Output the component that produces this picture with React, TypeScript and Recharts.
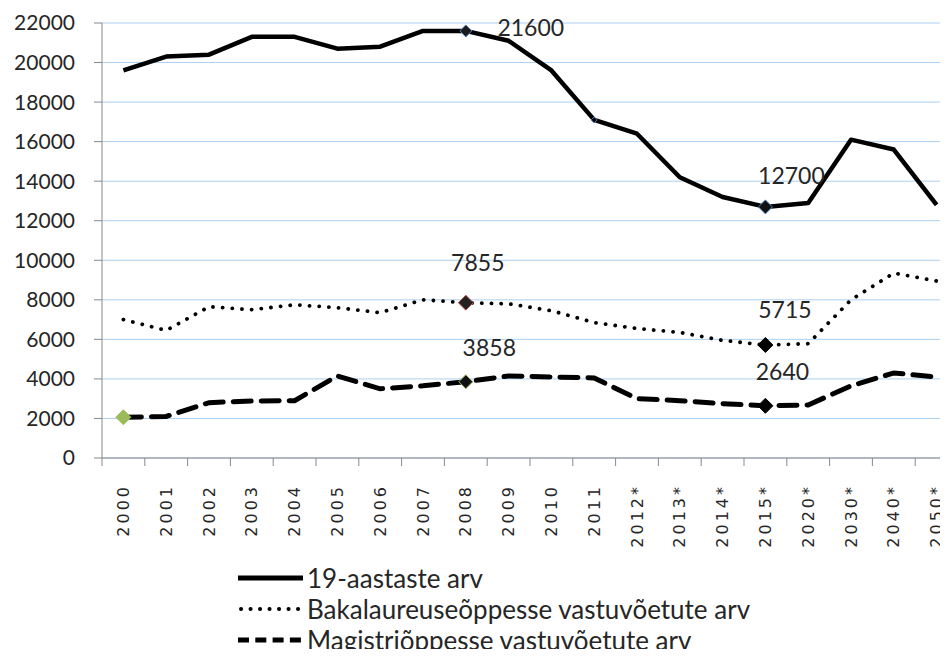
import React from 'react';
import { LineChart, Line, XAxis, YAxis, CartesianGrid, Legend } from 'recharts';

const categories = ['2000', '2001', '2002', '2003', '2004', '2005', '2006', '2007', '2008', '2009', '2010', '2011', '2012*', '2013*', '2014*', '2015*', '2020*', '2030*', '2040*', '2050*'];
const aastased19 = [19600, 20300, 20400, 21300, 21300, 20700, 20800, 21600, 21600, 21100, 19600, 17100, 16400, 14200, 13200, 12700, 12900, 16100, 15600, 12800];
const bakalaureus = [7000, 6450, 7650, 7500, 7750, 7600, 7350, 8000, 7855, 7800, 7450, 6850, 6550, 6350, 5950, 5715, 5780, 8000, 9350, 8950];
const magistri = [2060, 2100, 2800, 2880, 2900, 4150, 3500, 3650, 3858, 4150, 4100, 4050, 3000, 2900, 2750, 2640, 2680, 3650, 4300, 4100];
const yTicks = [0, 2000, 4000, 6000, 8000, 10000, 12000, 14000, 16000, 18000, 20000, 22000];
const seriesNames = ['19-aastaste arv', 'Bakalaureuseõppesse vastuvõetute arv', 'Magistriõppesse vastuvõetute arv'];

const data = categories.map((c, i) => ({ cat: c, s1: aastased19[i], s2: bakalaureus[i], s3: magistri[i] }));

const CHART_W = 952;
const CHART_H = 649;
const MARGIN = { top: 15, right: 2, left: 0, bottom: 0 };
const Y_W = 94;
const X_H = 199;
const STEP = (CHART_W - MARGIN.left - MARGIN.right - Y_W) / categories.length;
const X_TICK_SIZE = 8;
const X_TICK_MARGIN = 18;
const AXIS_COLOR = '#898989';
const GRID_COLOR = '#abd0f1';
const TEXT_COLOR = '#262626';

type Marker = { fill: string; stroke: string; r: number; label?: { dx: number; dy: number } };

const markers: Record<string, Record<number, Marker>> = {
  s1: {
    8: { fill: '#1a1a1a', stroke: '#4f81bd', r: 6, label: { dx: 65, dy: -4 } },
    11: { fill: '#000', stroke: '#4f81bd', r: 3 },
    15: { fill: '#111', stroke: '#4f81bd', r: 7, label: { dx: 26, dy: -32 } },
  },
  s2: {
    8: { fill: '#222', stroke: '#c0504d', r: 7.5, label: { dx: 12, dy: -41 } },
    15: { fill: '#000', stroke: '#000', r: 7.5, label: { dx: 19.5, dy: -36 } },
  },
  s3: {
    0: { fill: '#9bbb59', stroke: '#9bbb59', r: 7.5 },
    8: { fill: '#111', stroke: '#9bbb59', r: 7, label: { dx: 23.5, dy: -35 } },
    15: { fill: '#000', stroke: '#000', r: 7.5, label: { dx: 17, dy: -35 } },
  },
};

const makeDot = (key: string) => (props: any) => {
  const { cx, cy, index, value } = props;
  const m = markers[key][index];
  if (!m || cx == null || cy == null) return <g key={`${key}-d-${index}`} />;
  const r = m.r;
  const v = Array.isArray(value) ? value[1] : value;
  return (
    <g key={`${key}-d-${index}`}>
      <polygon
        points={`${cx},${cy - r} ${cx + r},${cy} ${cx},${cy + r} ${cx - r},${cy}`}
        fill={m.fill}
        stroke={m.stroke}
        strokeWidth={1}
      />
      {m.label && (
        <text
          x={cx + m.label.dx}
          y={cy + m.label.dy}
          textAnchor="middle"
          dominantBaseline="central"
          fontFamily="Lato"
          fontSize={23}
          fill={TEXT_COLOR}
        >
          {v}
        </text>
      )}
    </g>
  );
};

const XTick = (props: any) => {
  const { x, y, payload, index } = props;
  const axisY = y - X_TICK_SIZE - X_TICK_MARGIN;
  return (
    <g>
      <line x1={x - STEP / 2} x2={x - STEP / 2} y1={axisY} y2={axisY + X_TICK_SIZE} stroke={AXIS_COLOR} />
      {index === categories.length - 1 && (
        <line x1={x + STEP / 2} x2={x + STEP / 2} y1={axisY} y2={axisY + X_TICK_SIZE} stroke={AXIS_COLOR} />
      )}
      <text
        x={x}
        y={y}
        transform={`rotate(-90 ${x} ${y})`}
        textAnchor="end"
        dominantBaseline="central"
        fontFamily="DejaVu Sans"
        fontSize={16}
        letterSpacing={3}
        fill={TEXT_COLOR}
      >
        {payload.value}
      </text>
    </g>
  );
};

const legendStyles: Record<string, any> = {
  s1: { strokeWidth: 5, strokeDasharray: undefined, strokeLinecap: 'butt' },
  s2: { strokeWidth: 4, strokeDasharray: '0.1 9.4', strokeLinecap: 'round' },
  s3: { strokeWidth: 5, strokeDasharray: '11 6.3', strokeLinecap: 'butt' },
};

const renderLegend = () => (
  <div style={{ fontFamily: 'Lato', fontSize: 26, color: TEXT_COLOR }}>
    {['s1', 's2', 's3'].map((k, i) => (
      <div key={k} style={{ display: 'flex', alignItems: 'center', height: 31, whiteSpace: 'nowrap' }}>
        <svg width={69} height={20} style={{ flex: 'none' }}>
          <line
            x1={k === 's2' ? 3 : 0}
            x2={65}
            y1={10}
            y2={10}
            stroke="#000"
            strokeWidth={legendStyles[k].strokeWidth}
            strokeDasharray={legendStyles[k].strokeDasharray}
            strokeLinecap={legendStyles[k].strokeLinecap}
          />
        </svg>
        <span>{seriesNames[i]}</span>
      </div>
    ))}
  </div>
);

export default function App() {
  return (
    <div style={{ width: 940, height: CHART_H, overflow: 'hidden', marginBottom: -8 }}>
      <LineChart width={CHART_W} height={CHART_H} data={data} margin={MARGIN}>
        <CartesianGrid vertical={false} stroke={GRID_COLOR} strokeWidth={1} />
        <XAxis
          dataKey="cat"
          height={X_H}
          interval={0}
          padding={{ left: STEP / 2, right: STEP / 2 }}
          tickLine={false}
          tickSize={X_TICK_SIZE}
          tickMargin={X_TICK_MARGIN}
          stroke={AXIS_COLOR}
          tick={<XTick />}
        />
        <YAxis
          width={Y_W}
          domain={[0, 22000]}
          ticks={yTicks}
          interval={0}
          tickSize={8}
          tickMargin={19}
          stroke={AXIS_COLOR}
          tick={{ fontFamily: 'Lato', fontSize: 21, fill: TEXT_COLOR }}
        />
        <Legend
          layout="horizontal"
          verticalAlign="middle"
          align="center"
          content={renderLegend}
          wrapperStyle={{ left: 230, top: 554, width: 660 }}
        />
        <Line
          type="linear"
          dataKey="s1"
          name={seriesNames[0]}
          stroke="#000"
          strokeWidth={4.5}
          strokeLinejoin="round"
          dot={makeDot('s1')}
          activeDot={false}
          isAnimationActive={false}
        />
        <Line
          type="linear"
          dataKey="s2"
          name={seriesNames[1]}
          stroke="#000"
          strokeWidth={3.8}
          strokeDasharray="0.1 9.6"
          strokeLinecap="round"
          dot={makeDot('s2')}
          activeDot={false}
          isAnimationActive={false}
        />
        <Line
          type="linear"
          dataKey="s3"
          name={seriesNames[2]}
          stroke="#000"
          strokeWidth={5}
          strokeDasharray="18 10"
          strokeLinecap="round"
          dot={makeDot('s3')}
          activeDot={false}
          isAnimationActive={false}
        />
      </LineChart>
    </div>
  );
}
